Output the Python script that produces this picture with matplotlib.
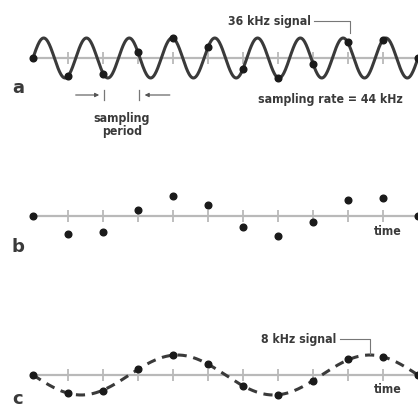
import numpy as np
import matplotlib
matplotlib.use('Agg')
import matplotlib.pyplot as plt

# signal / sampling settings
sample_rate_khz = 44
signal_a_khz = 36
signal_c_khz = 8

# sample index along the time axis
sample_idx = [0, 1, 2, 3, 4, 5, 6, 7, 8, 9, 10, 11]
samples = [0.0, -0.91, -0.78, 0.3, 0.99, 0.55, -0.56, -0.99, -0.3, 0.78, 0.91, 0.0]

text_col = '#3a3a3a'
curve_col = '#3a3a3a'
axis_col = '#b9b9b9'
plt.rcParams['font.family'] = ['DejaVu Sans']
plt.rcParams['font.stretch'] = 'condensed'
fs = 8.8

W, H = 418, 410
fig = plt.figure(figsize=(W / 100, H / 100), dpi=100)


def panel(top, hpx):
    ax = fig.add_axes([0, (H - top - hpx) / H, 1, hpx / H])
    ax.set_xlim(-33 / 35, 11)
    ax.set_ylim(-(hpx - 59) / 20, 59 / 20)
    ax.axis('off')
    ax.axhline(0, color=axis_col, lw=1.6, xmin=0.085, zorder=1)
    ax.plot(sample_idx[1:-1], [0] * 10, ls='none', marker='|', ms=8,
            mew=1.3, color=axis_col, zorder=1)
    return ax


def label(ax, s, y):
    ax.text(-0.43, y, s, fontsize=13, fontweight='heavy', color=text_col,
            ha='center', va='baseline', fontstretch='normal')


t = np.linspace(0, 11, 800)

# --- a ---
ax = panel(0, 140)
ax.plot(t, np.sin(2 * np.pi * signal_a_khz / sample_rate_khz * t),
        color=curve_col, lw=2.2, zorder=2)
ax.plot(sample_idx, samples, 'o', color='#1a1a1a', ms=4.8, zorder=3)
label(ax, 'a', -1.7)
ax.text(7.94, 1.85, '36 kHz signal', fontsize=fs, fontweight='bold',
        color=text_col, ha='right', va='center')
ax.plot([8.03, 9.06, 9.06], [1.85, 1.85, 1.25], color='#777777', lw=0.8)
ax.text(8.51, -2.05, 'sampling rate = 44 kHz', fontsize=fs,
        fontweight='bold', color=text_col, ha='center', va='center')
ax.annotate('', xy=(1.97, -1.85), xytext=(1.14, -1.85),
            arrowprops=dict(arrowstyle='-|>', color='#555555', lw=0.8,
                            mutation_scale=6))
ax.annotate('', xy=(3.11, -1.85), xytext=(3.99, -1.85),
            arrowprops=dict(arrowstyle='-|>', color='#555555', lw=0.8,
                            mutation_scale=6))
ax.plot([2.03, 2.03], [-1.6, -2.1], color='#777777', lw=0.9)
ax.plot([3.03, 3.03], [-1.6, -2.1], color='#777777', lw=0.9)
ax.text(2.54, -3.3, 'sampling\nperiod', fontsize=fs, fontweight='bold',
        color=text_col, ha='center', va='center', linespacing=1.05)

# --- b ---
ax = panel(158, 140)
ax.plot(sample_idx, samples, 'o', color='#1a1a1a', ms=4.8, zorder=3)
label(ax, 'b', -1.75)
ax.text(10.14, -0.75, 'time', fontsize=fs, fontweight='bold',
        color=text_col, ha='center', va='center')

# --- c ---
ax = panel(317, 93)
ax.plot(t, -np.sin(2 * np.pi * signal_c_khz / sample_rate_khz * t),
        color=curve_col, lw=2.2, ls=(0, (3, 2.2)), zorder=2)
ax.plot(sample_idx, samples, 'o', color='#1a1a1a', ms=4.8, zorder=3)
label(ax, 'c', -1.42)
ax.text(10.14, -0.7, 'time', fontsize=fs, fontweight='bold',
        color=text_col, ha='center', va='center')
ax.text(8.66, 1.8, '8 kHz signal', fontsize=fs, fontweight='bold',
        color=text_col, ha='right', va='center')
ax.plot([8.77, 9.63, 9.63], [1.8, 1.8, 1.05], color='#777777', lw=0.8)

fig.savefig('out.png', dpi=100, facecolor='white')
